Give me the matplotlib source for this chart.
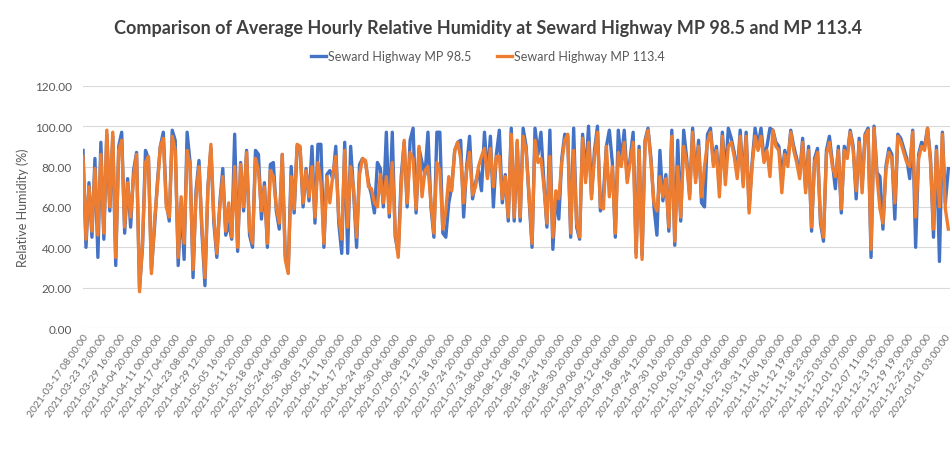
import numpy as np
import matplotlib
matplotlib.use('Agg')
import matplotlib.pyplot as plt

# daily readings (every 24 h from 2021-03-17 08:00)
mp_98_5 = [
    88, 40, 72, 45, 84, 35, 92, 44, 96, 58, 95, 31, 90, 97, 47, 74, 50, 78, 87, 20,
    40, 88, 84, 29, 49, 72, 90, 97, 62, 53, 98, 93, 31, 62, 34, 97, 82, 25, 68, 83,
    47, 21, 70, 89, 52, 35, 62, 79, 46, 52,
    44, 96, 38, 82, 58, 88, 46, 40, 88, 86, 54, 72, 40, 81, 82, 58, 49, 86, 36, 28,
    80, 57, 90, 89, 60, 79, 63, 90, 52, 91, 91, 40, 76, 78, 74, 90, 52, 37, 92, 37,
    90, 67, 40, 81, 84, 82, 72, 66, 57,
    82, 79, 60, 97, 55, 97, 45, 37, 75, 92, 60, 93, 99, 57, 89, 82, 76, 97, 60, 45,
    97, 97, 47, 45, 62, 70, 88, 92, 93, 55, 80, 95, 64, 72, 78, 68, 97, 75, 95, 60,
    86, 98, 62, 76, 53, 99, 53, 92,
    53, 99, 90, 64, 40, 99, 86, 97, 72, 50, 98, 39, 66, 54, 84, 96, 95, 45, 99, 50,
    44, 96, 75, 100, 66, 88, 100, 58, 66, 90, 98, 82, 45, 98, 82, 98, 74, 84, 97, 37,
    90, 36, 93, 99, 84, 60, 46, 88, 63,
    76, 48, 98, 41, 93, 53, 98, 84, 66, 99, 74, 93, 62, 60, 96, 99, 82, 90, 70, 97,
    75, 99, 94, 87, 76, 98, 72, 97, 59, 82, 99, 90, 99, 84, 90, 99, 98, 92, 90, 75,
    88, 82, 98, 90, 84, 76, 94, 69, 90,
    48, 84, 89, 52, 43, 88, 95, 82, 69, 90, 57, 90, 86, 98, 90, 64, 94, 70, 96, 99,
    35, 100, 77, 75, 49, 80, 89, 86, 54, 96, 94, 89, 84, 74, 98, 40, 86, 92, 90, 99,
    84, 45, 90, 33, 97, 62, 79,
]
mp_113_4 = [
    85, 44, 70, 48, 79, 46, 86, 47, 98, 60, 97, 35, 88, 93, 50, 72, 55, 75, 86, 18,
    42, 82, 85, 27, 52, 70, 90, 94, 60, 55, 95, 88, 35, 65, 42, 88, 80, 29, 65, 80,
    50, 25, 69, 91, 55, 37, 60, 75, 48, 62,
    45, 80, 40, 81, 60, 87, 49, 42, 84, 78, 58, 70, 42, 78, 75, 60, 52, 86, 34, 27,
    75, 59, 91, 90, 62, 78, 65, 80, 55, 82, 72, 42, 75, 62, 76, 85, 55, 44, 88, 50,
    80, 69, 45, 76, 84, 83, 70, 69, 62,
    60, 76, 62, 75, 57, 82, 47, 35, 70, 93, 62, 87, 84, 59, 90, 65, 78, 80, 62, 47,
    82, 78, 49, 58, 75, 68, 88, 92, 84, 62, 78, 87, 66, 70, 80, 85, 89, 74, 89, 70,
    85, 85, 64, 75, 55, 96, 55, 93,
    55, 95, 88, 66, 42, 93, 82, 84, 70, 52, 85, 45, 68, 64, 82, 93, 96, 47, 88, 52,
    45, 94, 72, 92, 64, 85, 97, 60, 59, 90, 65, 80, 47, 87, 80, 92, 72, 82, 92, 35,
    88, 34, 92, 98, 82, 62, 58, 75, 65,
    74, 50, 95, 43, 80, 55, 90, 82, 64, 97, 72, 90, 65, 80, 92, 97, 80, 88, 65, 95,
    71, 90, 92, 85, 74, 95, 70, 95, 57, 80, 95, 88, 95, 82, 88, 75, 98, 90, 88, 67,
    86, 80, 97, 88, 82, 74, 92, 67, 88,
    50, 82, 87, 54, 45, 86, 92, 80, 75, 88, 59, 88, 84, 97, 88, 68, 92, 67, 95, 98,
    39, 99, 75, 59, 52, 78, 87, 84, 62, 95, 92, 87, 82, 80, 97, 55, 84, 90, 88, 99,
    82, 49, 88, 60, 96, 59, 49,
]

tick_labels = [
    "2021-03-17 08:00:00", "2021-03-23 12:00:00", "2021-03-29 16:00:00", "2021-04-04 20:00:00",
    "2021-04-11 00:00:00", "2021-04-17 04:00:00", "2021-04-23 08:00:00", "2021-04-29 12:00:00",
    "2021-05-05 16:00:00", "2021-05-11 20:00:00", "2021-05-18 00:00:00", "2021-05-24 04:00:00",
    "2021-05-30 08:00:00", "2021-06-05 12:00:00", "2021-06-11 16:00:00", "2021-06-17 20:00:00",
    "2021-06-24 00:00:00", "2021-06-30 04:00:00", "2021-07-06 08:00:00", "2021-07-12 12:00:00",
    "2021-07-18 16:00:00", "2021-07-24 20:00:00", "2021-07-31 00:00:00", "2021-08-06 04:00:00",
    "2021-08-12 08:00:00", "2021-08-18 12:00:00", "2021-08-24 16:00:00", "2021-08-30 20:00:00",
    "2021-09-06 00:00:00", "2021-09-12 04:00:00", "2021-09-18 08:00:00", "2021-09-24 12:00:00",
    "2021-09-30 16:00:00", "2021-10-06 20:00:00", "2021-10-13 00:00:00", "2021-10-19 04:00:00",
    "2021-10-25 08:00:00", "2021-10-31 12:00:00", "2021-11-06 16:00:00", "2021-11-12 19:00:00",
    "2021-11-18 23:00:00", "2021-11-25 03:00:00", "2021-12-01 07:00:00", "2021-12-07 11:00:00",
    "2021-12-13 15:00:00", "2021-12-19 19:00:00", "2021-12-25 23:00:00", "2022-01-01 03:00:00",
]

plt.rcParams['font.family'] = ['Lato', 'DejaVu Sans']

BLUE = "#4472C4"
ORANGE = "#ED7D31"
GREY = "#595959"

fig = plt.figure(figsize=(9.51, 4.52), dpi=100)
ax = fig.add_axes([0.0873, 0.272, 0.912, 0.536])

x_blue = np.arange(len(mp_98_5)) * 24
x_orange = np.arange(len(mp_113_4)) * 24
ax.plot(x_blue, mp_98_5, color=BLUE, lw=2.4, label="Seward Highway MP 98.5")
ax.plot(x_orange, mp_113_4, color=ORANGE, lw=2.4, label="Seward Highway MP 113.4")

ax.set_ylim(0, 120)
ax.set_yticks(np.arange(0, 121, 20))
ax.set_yticklabels([f"{v:.2f}" for v in range(0, 121, 20)])
ax.set_xlim(0, 7000)
ax.set_xticks(np.arange(len(tick_labels)) * 148)
ax.set_xticklabels(tick_labels, rotation=55, ha="right", va="top",
                   rotation_mode="anchor", fontsize=7.5, color="#6f6f6f")
ax.tick_params(axis="y", labelsize=8.5, labelcolor=GREY, length=0, pad=8)
ax.tick_params(axis="x", length=0, pad=3)
ax.grid(axis="y", color="#d9d9d9", lw=0.8)
ax.set_axisbelow(True)
for s in ax.spines.values():
    s.set_visible(False)

ax.set_ylabel("Relative Humidity (%)", fontsize=9, color=GREY, labelpad=4)

fig.suptitle("Comparison of Average Hourly Relative Humidity at Seward Highway MP 98.5 and MP 113.4",
             x=0.513, y=0.955, fontsize=13, fontweight="bold", color="#404040")
fig.legend(loc="center", bbox_to_anchor=(0.513, 0.874), ncol=2, frameon=False,
           fontsize=9, handlelength=1.2, handletextpad=0.2, columnspacing=2.0,
           labelcolor=GREY)

fig.savefig("out.png", dpi=100)
